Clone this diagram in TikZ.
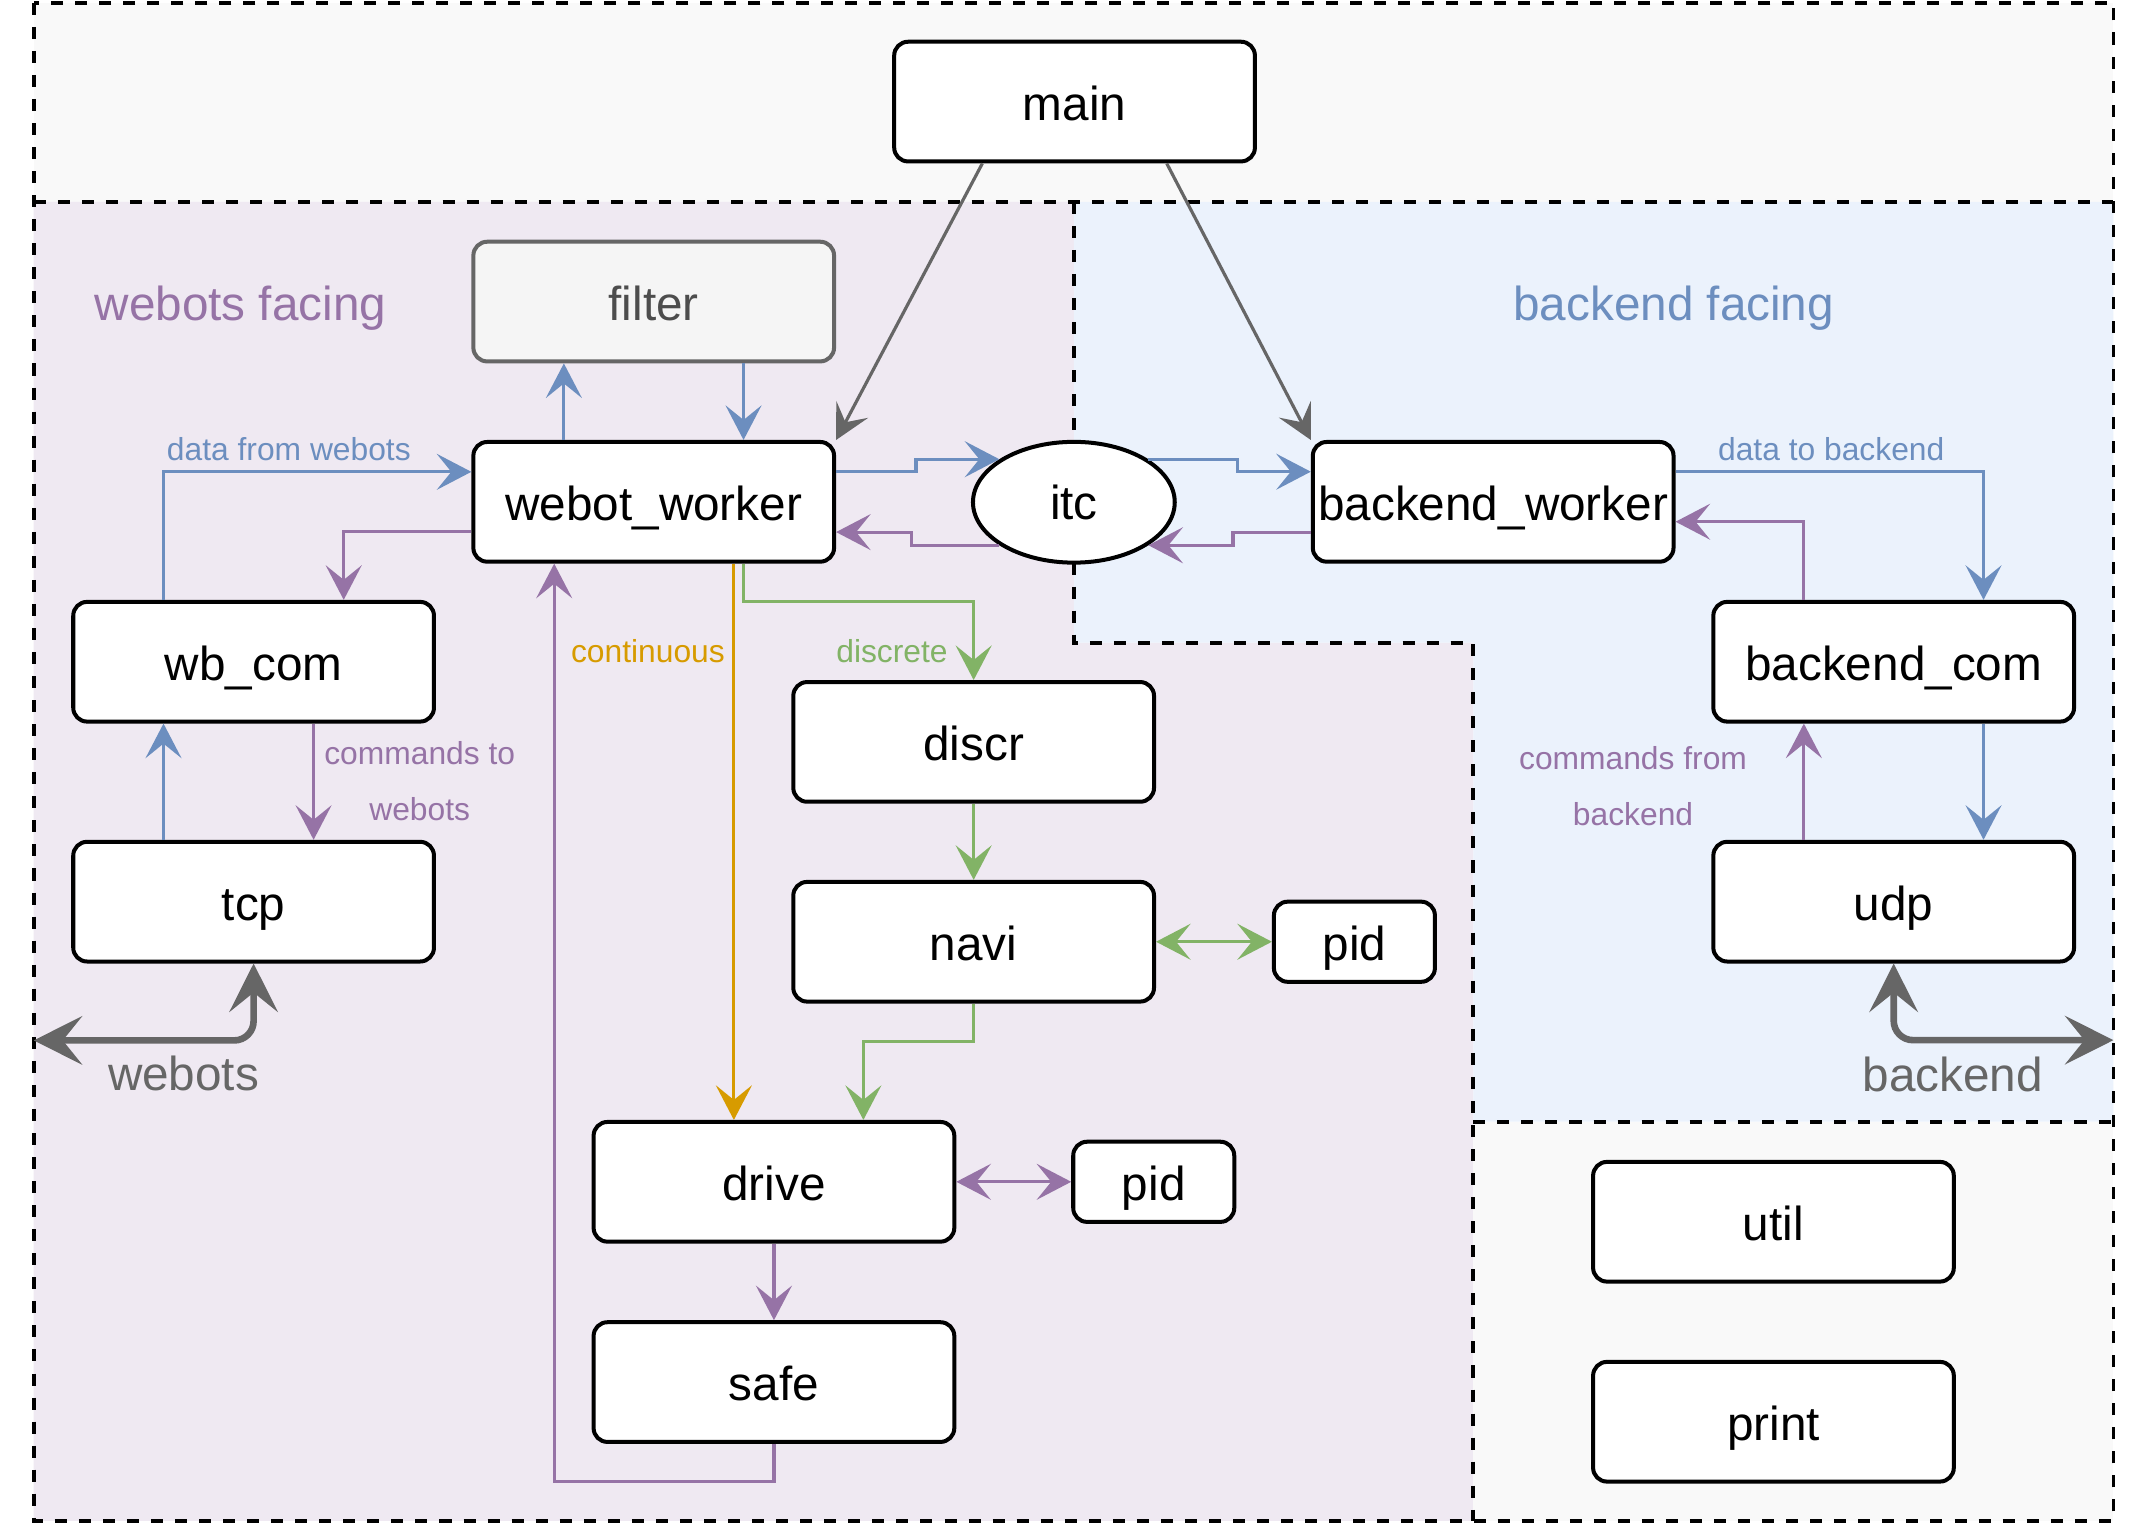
\documentclass[tikz,border=0pt]{standalone}
\usepackage{fontspec}
\setmainfont{Liberation Sans}
\usetikzlibrary{arrows.meta,shapes.geometric}
\definecolor{topbg}{HTML}{F9F9F9}
\definecolor{webbg}{HTML}{EFE9F2}
\definecolor{backbg}{HTML}{EBF2FC}
\definecolor{filterbg}{HTML}{F5F5F5}
\definecolor{filtertxt}{HTML}{4D4D4D}
\definecolor{cblue}{HTML}{6C8EBF}
\definecolor{cpurple}{HTML}{9673A6}
\definecolor{cgreen}{HTML}{82B366}
\definecolor{corange}{HTML}{D79B00}
\definecolor{cgray}{HTML}{666666}
\newcommand{\bigtxt}{\fontsize{34.5}{41}\selectfont}
\newcommand{\smalltxt}{\fontsize{23}{40.5}\selectfont}
\tikzset{
  dio/.tip={Stealth[length=25pt,width=26pt,inset=10.5pt]},
  diobig/.tip={Stealth[length=35pt,width=35pt,inset=14pt]},
  box/.style={draw, line width=2.9pt, rounded corners=10pt, fill=white,
    minimum width=261pt, minimum height=86.6pt, inner sep=0pt,
    text height=27pt, text depth=0pt, font=\bigtxt},
  pidbox/.style={box, minimum width=116.5pt, minimum height=58pt},
  zone/.style={line width=2.7pt, dash pattern=on 8.7pt off 8.7pt},
  flow/.style={line width=2.3pt, -dio},
  twoway/.style={line width=2.3pt, dio-dio},
  bigflow/.style={cgray, line width=4.8pt, rounded corners=14pt, diobig-diobig},
  lbl/.style={font=\smalltxt, inner sep=0pt},
  zonelbl/.style={font=\bigtxt, inner sep=0pt, anchor=base},
}
\begin{document}
\begin{tikzpicture}[x=1pt,y=-1pt]
  \useasboundingbox (0,0) rectangle (1560,1105.6);
  \fill[white] (0,0) rectangle (1560,1105.6);
  \fill[topbg] (24.4,2) rectangle (1529.2,146);
  \fill[webbg] (24.4,146) -- (777,146) -- (777,465) -- (1066,465) -- (1066,1100.4) -- (24.4,1100.4) -- cycle;
  \fill[backbg] (777,146) -- (1529.2,146) -- (1529.2,811.6) -- (1066,811.6) -- (1066,465) -- (777,465) -- cycle;
  \fill[topbg] (1066,811.6) rectangle (1529.2,1100.4);
  \draw[zone] (24.4,2) rectangle (1529.2,1100.4);
  \draw[zone] (24.4,146) -- (1529.2,146);
  \draw[zone] (777,146) -- (777,465) -- (1066,465) -- (1066,1100.4);
  \draw[zone] (1066,811.6) -- (1529.2,811.6);

  \node[zonelbl, text=cpurple] (webotsfacing) at (174,232) {webots facing};
  \node[zonelbl, text=cblue] (backendfacing) at (1211,232) {backend facing};

  \node[box] (main) at (777.5,73.5) {main};
  \node[box, fill=filterbg, draw=cgray, text=filtertxt] (filter) at (473,218.2) {filter};
  \node[box] (webotworker) at (473,363.1) {webot\_worker};
  \node[draw, ellipse, line width=2.9pt, fill=white, minimum width=146pt, minimum height=87.4pt,
    inner sep=0pt, text height=25pt, text depth=0pt, font=\bigtxt] (itc) at (777,363.4) {itc};
  \node[box] (backendworker) at (1080.4,363.1) {backend\_worker};
  \node[box] (wbcom) at (183.5,478.8) {wb\_com};
  \node[box] (backendcom) at (1370.2,478.8) {backend\_com};
  \node[box] (discr) at (704.5,536.8) {discr};
  \node[box] (navi) at (704.5,681.4) {navi};
  \node[pidbox] (navipid) at (980,681.4) {pid};
  \node[box] (tcp) at (183.5,652.4) {tcp};
  \node[box] (udp) at (1370.2,652.4) {udp};
  \node[box] (drive) at (560,855.1) {drive};
  \node[pidbox] (drivepid) at (834.8,855.1) {pid};
  \node[box] (safe) at (560,1000) {safe};
  \node[box] (util) at (1283.2,884) {util};
  \node[box] (print) at (1283.2,1028.7) {print};

  \draw[flow, cgray] ([xshift=-66.7pt]main.south) -- (webotworker.north east);
  \draw[flow, cgray] ([xshift=66.7pt]main.south) -- (backendworker.north west);
  \draw[flow, cblue] ([xshift=-65pt]webotworker.north) -- ([xshift=-65pt]filter.south);
  \draw[flow, cblue] ([xshift=65pt]filter.south) -- ([xshift=65pt]webotworker.north);
  \draw[flow, cblue] ([yshift=21.8pt]webotworker.east) -- ++(57.8,0) |- (itc.150);
  \draw[flow, cblue] (itc.30) -- ++(64.2,0) |- ([yshift=21.8pt]backendworker.west);
  \draw[flow, cpurple] ([yshift=-21.9pt]backendworker.west) -- ++(-56.3,0) |- (itc.-30);
  \draw[flow, cpurple] (itc.-150) -- ++(-63.7,0) |- ([yshift=-21.9pt]webotworker.east);
  \draw[flow, cblue] ([xshift=-65.2pt]wbcom.north) |- ([yshift=21.7pt]webotworker.west);
  \draw[flow, cpurple] ([yshift=-21.4pt]webotworker.west) -| ([xshift=65.2pt]wbcom.north);
  \draw[flow, cblue] ([xshift=-65.2pt]tcp.north) -- ([xshift=-65.2pt]wbcom.south);
  \draw[flow, cpurple] ([xshift=43.4pt]wbcom.south) -- ([xshift=43.4pt]tcp.north);
  \draw[flow, corange] ([xshift=58pt]webotworker.south) -- ([xshift=-29pt]drive.north);
  \draw[flow, cgreen] ([xshift=65pt]webotworker.south) -- ++(0,27.5) -| (discr.north);
  \draw[flow, cgreen] (discr) -- (navi);
  \draw[twoway, cgreen] (navi) -- (navipid);
  \draw[flow, cgreen] (navi.south) -- ++(0,27.5) -| ([xshift=64.7pt]drive.north);
  \draw[twoway, cpurple] (drive) -- (drivepid);
  \draw[flow, cpurple] (drive) -- (safe);
  \draw[flow, cpurple] (safe.south) -- ++(0,27) -| ([xshift=-72pt]webotworker.south);
  \draw[flow, cblue] ([yshift=21.8pt]backendworker.east) -| ([xshift=65pt]backendcom.north);
  \draw[flow, cpurple] ([xshift=-65pt]backendcom.north) |- ([yshift=-14.4pt]backendworker.east);
  \draw[flow, cblue] ([xshift=65pt]backendcom.south) -- ([xshift=65pt]udp.north);
  \draw[flow, cpurple] ([xshift=-65pt]udp.north) -- ([xshift=-65pt]backendcom.south);

  \coordinate (webotsend) at (24.4,752.8);
  \coordinate (backendend) at (1529.2,752.6);
  \draw[bigflow] (webotsend) -| (tcp.south);
  \draw[bigflow] (udp.south) |- (backendend);

  \node[lbl, text=cblue, anchor=base] (datafromwebots) at (209,332.9) {data from webots};
  \node[lbl, text=cblue, anchor=base] (datatobackend) at (1325,332.9) {data to backend};
  \node[lbl, text=cpurple, align=center] (commandsto) at (303.7,565.3) {commands to\\webots};
  \node[lbl, text=cpurple, align=center] (commandsfrom) at (1181.6,568.5) {commands from\\backend};
  \node[lbl, text=corange, anchor=base] (continuous) at (468.8,479) {continuous};
  \node[lbl, text=cgreen, anchor=base] (discrete) at (645.4,479) {discrete};
  \node[zonelbl, text=cgray] (webotslbl) at (132.8,789.2) {webots};
  \node[zonelbl, text=cgray] (backendlbl) at (1413,789.5) {backend};
\end{tikzpicture}
\end{document}
